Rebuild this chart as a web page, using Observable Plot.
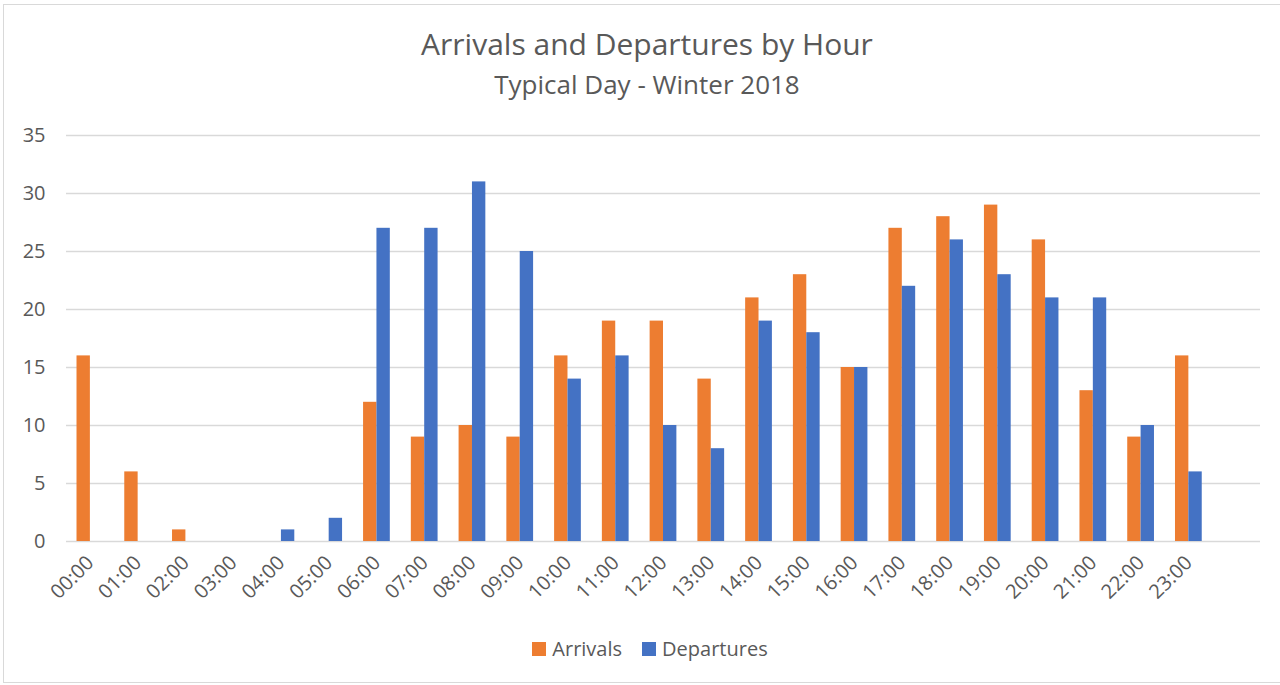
<!DOCTYPE html>
<html><head><meta charset="utf-8">
<script src="https://cdn.jsdelivr.net/npm/d3@7"></script>
<script src="https://cdn.jsdelivr.net/npm/@observablehq/plot@0.6"></script>
<style>
body{margin:0;background:#fff;font-family:"Open Sans",sans-serif;color:#595959;}
#frame{position:absolute;left:3px;top:4px;width:1300px;height:679px;border:1.5px solid #d9d9d9;box-sizing:border-box;}
#title{position:absolute;left:0;width:1294px;top:24px;text-align:center;font-size:30px;line-height:40px;}
#subtitle{position:absolute;left:0;width:1294px;top:67px;text-align:center;font-size:26px;line-height:34px;}
#chart{position:absolute;left:0;top:110px;}
#legend{position:absolute;left:0;width:1300px;top:636px;text-align:center;font-size:20px;line-height:26px;}
.sw{display:inline-block;width:14px;height:14px;margin-right:6px;vertical-align:0;}
.item{display:inline-block;margin:0 10px;}
</style></head>
<body>
<div id="frame"></div>
<div id="title">Arrivals and Departures by Hour</div>
<div id="subtitle">Typical Day - Winter 2018</div>
<div id="chart"></div>
<div id="legend"></div>
<script>
const hours = ["00:00","01:00","02:00","03:00","04:00","05:00","06:00","07:00","08:00","09:00","10:00","11:00","12:00","13:00","14:00","15:00","16:00","17:00","18:00","19:00","20:00","21:00","22:00","23:00"];
const arrivals   = [16,6,1,0,0,0,12,9,10,9,16,19,19,14,21,23,15,27,28,29,26,13,9,16];
const departures = [0,0,0,0,1,2,27,27,31,25,14,16,10,8,19,18,15,22,26,23,21,21,10,6];
const seriesNames = ["Arrivals","Departures"];
const seriesColors = ["#ED7D31","#4472C4"];
const yTicks = [0,5,10,15,20,25,30,35];

const W = 1280, mL = 66, mR = 20;
const step = (W - mL - mR) / 25;
const gap = step * 0.22;
const half = step * 0.56 / 2;

const arrRows = hours.map((h,i)=>({hour:h, series:"Arrivals", value:arrivals[i]}));
const depRows = hours.map((h,i)=>({hour:h, series:"Departures", value:departures[i]}));

const chart = Plot.plot({
  width: W, height: 517, marginLeft: mL, marginRight: mR, marginTop: 25, marginBottom: 86,
  style: {fontFamily: "'Open Sans', sans-serif", fontSize: "20px", color: "#595959", background: "transparent", overflow: "visible"},
  x: {domain: [...hours, ""], padding: 0, round: false, label: null},
  y: {domain: [0, 35], label: null},
  color: {domain: seriesNames, range: seriesColors},
  marks: [
    Plot.gridY(yTicks, {stroke: "#d9d9d9", strokeOpacity: 1, strokeWidth: 1.5}),
    Plot.barY(arrRows, {x: "hour", y: "value", fill: "series", insetLeft: gap, insetRight: gap + half}),
    Plot.barY(depRows, {x: "hour", y: "value", fill: "series", insetLeft: gap + half, insetRight: gap}),
    Plot.axisY(yTicks, {tickSize: 0, tickPadding: 21, fill: "#595959", fontSize: 20}),
    Plot.axisX(hours, {tickSize: 0, tickRotate: -45, tickPadding: 18, fill: "#595959", fontSize: 20})
  ]
});
document.getElementById("chart").appendChild(chart);

const lg = document.getElementById("legend");
seriesNames.forEach((n,i)=>{
  const s = document.createElement("span"); s.className = "item";
  s.innerHTML = `<span class="sw" style="background:${seriesColors[i]}"></span>${n}`;
  lg.appendChild(s);
});
</script>
</body></html>
